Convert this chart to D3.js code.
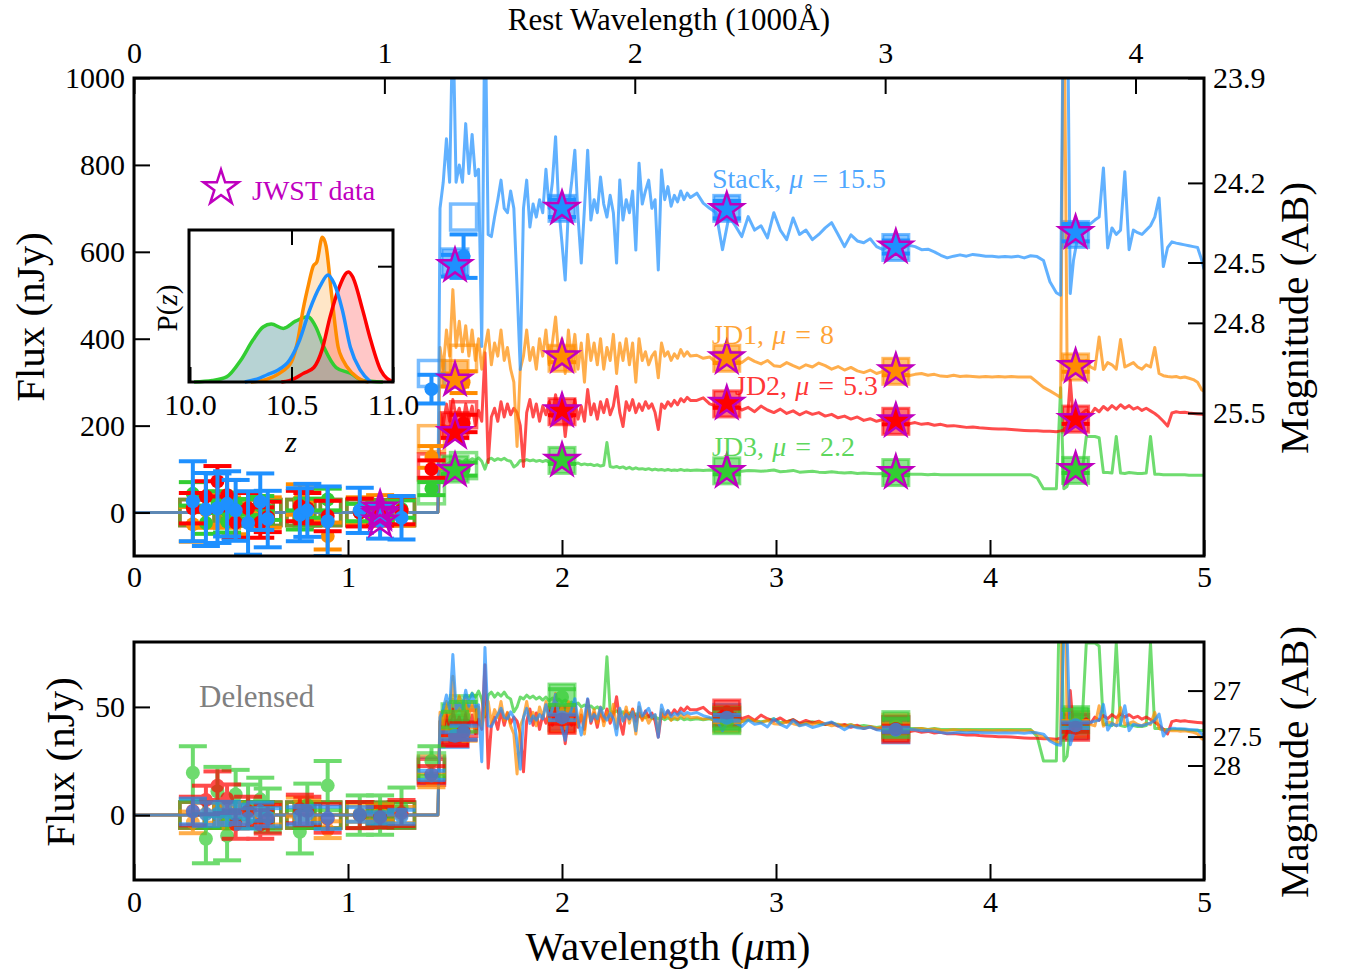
<!DOCTYPE html>
<html><head><meta charset="utf-8">
<script src="https://cdn.jsdelivr.net/npm/d3@7"></script>
<style>body{margin:0;background:#fff;} svg{display:block;}</style>
</head><body>
<svg id="chart" width="1346" height="978"></svg>
<script>
// ---------------- DATA ----------------
const redshift = 10.7;
const objectNames = ["Stack", "JD1", "JD2", "JD3"];
const magnifications = [15.5, 8, 5.3, 2.2];
const muLabels = ["15.5", "8", "5.3", "2.2"];

const xTicks = [0, 1, 2, 3, 4, 5];
const restTicks = [0, 1, 2, 3, 4];
const fluxTicksTop = [0, 200, 400, 600, 800, 1000];
const fluxTicksBottom = [0, 50];
const magTicksTop = [23.9, 24.2, 24.5, 24.8, 25.5];
const magTicksBottom = [27, 27.5, 28];
const insetTicks = [10.0, 10.5, 11.0];

// observed wavelength grid of the best-fit spectra (micron)
const spectrumWave = [0.0, 1.42,
1.430,1.445,1.460,1.475,1.490,1.505,1.520,1.535,1.550,1.565,
1.580,1.595,1.610,1.625,1.640,1.655,1.670,1.685,1.700,1.715,
1.730,1.745,1.760,1.775,1.790,1.805,1.820,1.835,1.850,1.865,
1.880,1.895,1.910,1.925,1.940,1.955,1.970,1.985,2.000,2.015,
2.030,2.045,2.060,2.075,2.090,2.105,2.120,2.135,2.150,2.165,
2.180,2.195,2.210,2.225,2.240,2.255,2.270,2.285,2.300,2.315,
2.330,2.345,2.360,2.375,2.390,2.405,2.420,2.435,2.450,2.465,
2.480,2.495,2.510,2.525,2.540,2.555,2.570,2.585,2.600,
2.63,2.66,2.69,2.72,2.75,2.78,2.81,2.84,2.87,2.90,
2.93,2.96,2.99,3.02,3.05,3.08,3.11,3.14,3.17,3.20,
3.23,3.26,3.29,3.32,3.35,3.38,3.41,3.44,3.47,3.50,
3.53,3.56,3.59,3.62,3.65,3.68,3.71,3.74,3.77,3.80,
3.83,3.86,3.89,3.92,3.95,3.98,4.01,4.04,4.07,4.10,
4.13,4.16,4.19,4.22,4.25,4.28,4.31,
4.33,4.345,4.36,4.375,4.39,
4.41,4.43,4.45,4.47,4.49,4.51,4.53,4.55,4.57,4.59,
4.61,4.63,4.65,4.67,4.69,4.71,4.73,4.75,4.77,4.79,
4.81,4.83,4.85,4.87,4.89,4.91,4.93,4.95,4.97,4.99,
5.00];

// observed (lensed) flux of the spectra, nJy
const stackSpec = [0,0,
700,760,860,760,1150,760,800,760,895,780,
870,775,790,382,1200,640,635,680,720,765,
700,690,740,700,520,329,700,765,657,710,
680,720,690,790,700,760,865,700,620,535,
700,760,834,680,574,700,834,673,720,690,
772,710,680,730,690,574,765,673,720,690,
740,604,804,710,740,765,700,720,558,788,
720,750,705,730,715,740,720,735,725,
735,712,700,690,605,681,660,635,681,650,
660,632,690,650,628,678,640,650,628,640,
655,667,640,612,639,625,621,630,612,605,
615,620,608,615,612,605,606,600,592,586,
590,593,590,594,592,590,590,588,589,588,
590,586,591,589,580,531,506,
500,1300,1300,504,580,
634,650,657,665,673,680,793,609,655,640,
650,784,605,650,644,640,650,660,680,724,
566,610,623,620,618,616,614,612,610,580,
560];

const jd1Spec = [0,0,
380,330,420,360,513,380,440,370,430,360,
420,350,400,330,380,420,340,390,360,420,
350,380,330,300,152,330,360,420,350,380,
330,400,360,420,340,390,450,360,400,320,
420,350,410,330,390,300,410,350,390,340,
400,330,380,350,410,320,390,350,400,340,
390,300,400,350,370,340,360,370,310,390,
360,370,350,365,355,375,360,370,360,
362,355,358,345,350,362,352,345,356,348,
342,350,338,336,345,338,332,340,335,344,
338,330,336,328,334,326,322,328,320,325,
322,318,322,315,318,320,316,318,314,313,
316,313,314,313,312,313,312,313,312,313,
312,312,312,300,288,280,271,
265,1300,352,345,340,
345,340,350,335,330,404,329,345,340,330,
398,335,340,345,335,330,340,335,380,320,
315,313,312,313,310,312,309,306,300,282,
279];

const jd2Spec = [0,0,
230,200,250,210,260,220,240,200,250,215,
245,200,235,210,368,115,220,240,210,255,
220,250,225,240,230,200,106,230,260,220,
250,210,245,225,255,220,271,230,250,175,
240,220,260,215,245,210,283,225,250,215,
255,230,260,225,245,290,230,198,255,235,
260,230,250,235,255,240,250,230,191,250,
240,255,245,258,248,262,255,265,258,
258,264,250,245,255,240,248,236,242,232,
245,236,230,238,228,234,225,232,226,230,
222,226,218,222,215,220,212,216,210,214,
208,206,210,204,207,203,205,201,203,199,
200,198,196,197,195,194,193,192,192,191,
190,189,188,188,187,187,186,
188,190,200,305,210,
222,228,236,225,240,232,244,236,246,238,
248,240,246,238,242,235,240,234,228,220,
210,199,229,232,230,231,229,228,227,226,
225];

const jd3Spec = [0,0,
95,105,110,115,118,112,120,115,122,118,
124,120,126,118,100,122,125,120,124,121,
125,120,118,105,110,120,118,122,119,121,
118,120,117,120,116,119,115,118,115,117,
113,115,112,114,110,112,110,111,108,110,
107,109,161,106,104,106,103,105,101,104,
100,103,100,101,99,101,98,100,98,99,
97,99,97,98,97,99,97,98,97,
98,97,98,96,97,95,96,95,97,96,
95,96,98,94,95,97,93,94,95,93,
92,94,92,91,92,90,91,90,89,90,
89,88,89,88,88,88,87,88,87,87,
87,87,87,87,87,87,87,87,87,87,
87,87,87,80,55,55,55,
287,55,60,90,92,
93,92,175,175,175,172,92,92,91,175,
91,90,92,91,90,90,91,175,88,88,
87,87,87,87,87,87,86,86,86,86,
86];

// photometry
const hstWave = [0.275, 0.336, 0.39, 0.435, 0.475, 0.533, 0.59, 0.625, 0.775, 0.81, 0.905, 1.055, 1.25, 1.39, 1.54];
const jwstWave = [1.15, 1.50, 2.00, 2.77, 3.56, 4.40];

const stackHstFlux  = [26, 7, 10, 20, 5, -24, 25, -15, -5, 5, -20, 5, -12, 284, 590];
const stackHstErr   = [92, 84, 80, 75, 70, 73, 65, 65, 61, 61, 80, 52, 50, 33, 50];
const stackHstModel = [0, 0, 0, 0, 0, 0, 0, 0, 0, 0, 0, 0, 0, 320, 680];
const stackJwstFlux  = [-20, 568, 700, 697, 611, 644];
const stackJwstErr   = [40, 25, 20, 20, 15, 20];
const stackJwstModel = [0, 577, 700, 700, 610, 640];

const jd1HstFlux  = [-27, 5, 10, 0, -15, 10, -5, 0, 30, 20, -54, 5, 0, 128, 300];
const jd1HstErr   = [40, 40, 38, 35, 35, 35, 35, 35, 35, 35, 31, 30, 30, 25, 25];
const jd1HstModel = [0, 0, 0, 0, 0, 0, 0, 0, 0, 0, 0, 0, 0, 170, 355];
const jd1JwstFlux  = [10, 305, 358, 356, 326, 336];
const jd1JwstErr   = [30, 15, 12, 12, 10, 12];
const jd1JwstModel = [0, 320, 355, 355, 325, 335];

const jd2HstFlux  = [10, 37, 72, 40, -23, 10, -23, -10, 15, 10, -8, 0, 5, 100, 205];
const jd2HstErr   = [35, 35, 35, 35, 35, 35, 35, 35, 35, 35, 35, 32, 32, 20, 20];
const jd2HstModel = [0, 0, 0, 0, 0, 0, 0, 0, 0, 0, 0, 0, 0, 105, 225];
const jd2JwstFlux  = [-5, 184, 234, 251, 211, 214];
const jd2JwstErr   = [25, 12, 10, 10, 8, 10];
const jd2JwstModel = [0, 200, 232, 250, 210, 215];

const jd3HstFlux  = [43, -24, 24, -21, 21, 9, 16, 5, -17, 10, 30, 0, 8, 55, 100];
const jd3HstErr   = [27, 25, 25, 25, 25, 22, 22, 22, 22, 22, 25, 20, 20, 15, 15];
const jd3HstModel = [0, 0, 0, 0, 0, 0, 0, 0, 0, 0, 0, 0, 0, 50, 108];
const jd3JwstFlux  = [0, 97, 120, 94, 92, 99];
const jd3JwstErr   = [20, 8, 8, 6, 6, 8];
const jd3JwstModel = [0, 100, 120, 96, 92, 97];

// photometric-redshift probability distributions (inset)
const pzStackZ = [10.27, 10.33, 10.38, 10.43, 10.49, 10.54, 10.59, 10.64, 10.68, 10.71, 10.75, 10.79, 10.84, 10.89];
const pzStackP = [0, 0.02, 0.05, 0.08, 0.15, 0.29, 0.50, 0.66, 0.74, 0.68, 0.50, 0.24, 0.08, 0];
const pzJd1Z = [10.30, 10.38, 10.44, 10.50, 10.53, 10.557, 10.585, 10.607, 10.625, 10.652, 10.67, 10.697, 10.73, 10.754, 10.80, 10.85, 10.88];
const pzJd1P = [0, 0.02, 0.06, 0.14, 0.28, 0.50, 0.68, 0.80, 0.83, 1.0, 0.94, 0.61, 0.24, 0.15, 0.06, 0.01, 0];
const pzJd2Z = [10.45, 10.49, 10.56, 10.61, 10.65, 10.69, 10.73, 10.78, 10.80, 10.85, 10.89, 10.94, 11.0];
const pzJd2P = [0, 0.01, 0.06, 0.10, 0.22, 0.45, 0.635, 0.76, 0.73, 0.50, 0.29, 0.08, 0.0];
const pzJd3Z = [10.02, 10.11, 10.18, 10.25, 10.31, 10.36, 10.40, 10.46, 10.52, 10.58, 10.62, 10.66, 10.72, 10.79, 10.85, 10.95];
const pzJd3P = [0, 0.01, 0.035, 0.15, 0.29, 0.38, 0.40, 0.37, 0.42, 0.45, 0.38, 0.24, 0.10, 0.06, 0.01, 0];

// ---------------- STYLE ----------------
const FONT = "'Liberation Serif', 'DejaVu Serif', serif";
const colors = ["#1E90FF", "#FF8C00", "#FF0000", "#32CD32"];
const pzFill = [null, "#FF8C00", "#FF0000", "#5F9EA0"];
const pzFillOpacity = [0, 0.22, 0.22, 0.45];
const starEdge = "#BF00BF";

const objects = objectNames.map((n, i) => ({
  name: n, mu: magnifications[i], muLabel: muLabels[i], color: colors[i],
  spec: [stackSpec, jd1Spec, jd2Spec, jd3Spec][i],
  hstFlux: [stackHstFlux, jd1HstFlux, jd2HstFlux, jd3HstFlux][i],
  hstErr: [stackHstErr, jd1HstErr, jd2HstErr, jd3HstErr][i],
  hstModel: [stackHstModel, jd1HstModel, jd2HstModel, jd3HstModel][i],
  jwstFlux: [stackJwstFlux, jd1JwstFlux, jd2JwstFlux, jd3JwstFlux][i],
  jwstErr: [stackJwstErr, jd1JwstErr, jd2JwstErr, jd3JwstErr][i],
  jwstModel: [stackJwstModel, jd1JwstModel, jd2JwstModel, jd3JwstModel][i],
  pzZ: [pzStackZ, pzJd1Z, pzJd2Z, pzJd3Z][i],
  pzP: [pzStackP, pzJd1P, pzJd2P, pzJd3P][i],
  pzFill: pzFill[i], pzFillOpacity: pzFillOpacity[i]
}));

const svg = d3.select("#chart");
const L = 134, R = 1204;
const x = d3.scaleLinear().domain([0, 5]).range([L, R]);
const yTop = d3.scaleLinear().domain([-100, 1000]).range([556, 78]);
const yBot = d3.scaleLinear().domain([-30, 80]).range([880, 642]);
const xRest = d3.scaleLinear().domain([0, 50 / (1 + redshift)]).range([L, R]);
const magToFlux = m => Math.pow(10, (31.4 - m) / 2.5);

const defs = svg.append("defs");
defs.append("clipPath").attr("id", "clipTop").append("rect")
  .attr("x", L).attr("y", 78).attr("width", R - L).attr("height", 478);
defs.append("clipPath").attr("id", "clipBot").append("rect")
  .attr("x", L).attr("y", 642).attr("width", R - L).attr("height", 238);

function drawPanel(y, clipId, delensed) {
  const g = svg.append("g").attr("clip-path", `url(#${clipId})`);
  const sq = 26;
  const mOp = delensed ? 0.7 : 1;
  // model photometry squares
  objects.forEach(o => {
    const d = delensed ? o.mu : 1;
    hstWave.forEach((w, i) => {
      g.append("rect").attr("x", x(w) - sq / 2).attr("y", y(o.hstModel[i] / d) - sq / 2)
        .attr("width", sq).attr("height", sq)
        .attr("fill", "none").attr("stroke", o.color).attr("stroke-width", 3.5)
        .attr("stroke-opacity", 0.6);
    });
    jwstWave.forEach((w, i) => {
      g.append("rect").attr("x", x(w) - sq / 2).attr("y", y(o.jwstModel[i] / d) - sq / 2)
        .attr("width", sq).attr("height", sq)
        .attr("fill", o.color).attr("fill-opacity", 0.55)
        .attr("stroke", o.color).attr("stroke-width", 3).attr("stroke-opacity", 0.6);
    });
  });
  // spectra
  const line = d3.line().x(d => x(d[0])).y(d => y(d[1]));
  [3, 2, 1, 0].forEach(k => {
    const o = objects[k];
    const d = delensed ? o.mu : 1;
    const pts = spectrumWave.map((w, i) => [w, o.spec[i] / d]);
    g.append("path").datum(pts).attr("d", line)
      .attr("fill", "none").attr("stroke", o.color).attr("stroke-width", 3)
      .attr("stroke-opacity", 0.7).attr("stroke-linejoin", "round");
  });
  // data points with error bars
  [1, 3, 2, 0].forEach(k => {
    const o = objects[k];
    const d = delensed ? o.mu : 1;
    const pts = hstWave.map((w, i) => [w, o.hstFlux[i] / d, o.hstErr[i] / d])
      .concat(jwstWave.map((w, i) => [w, o.jwstFlux[i] / d, o.jwstErr[i] / d]));
    const eg = g.append("g").attr("opacity", mOp);
    pts.forEach(p => {
      const cx = x(p[0]), y1 = y(p[1] - p[2]), y2 = y(p[1] + p[2]);
      eg.append("line").attr("x1", cx).attr("x2", cx).attr("y1", y1).attr("y2", y2)
        .attr("stroke", o.color).attr("stroke-width", 4);
      [y1, y2].forEach(yy => eg.append("line").attr("x1", cx - 14).attr("x2", cx + 14)
        .attr("y1", yy).attr("y2", yy).attr("stroke", o.color).attr("stroke-width", 4));
      eg.append("circle").attr("cx", cx).attr("cy", y(p[1])).attr("r", 7).attr("fill", o.color);
    });
  });
  // JWST stars (top panel only)
  if (!delensed) {
    const star = d3.symbol().type(d3.symbolStar).size(340);
    objects.forEach(o => {
      jwstWave.forEach((w, i) => {
        g.append("path").attr("d", star)
          .attr("transform", `translate(${x(w)},${y(o.jwstFlux[i])})`)
          .attr("fill", i === 0 ? "none" : o.color)
          .attr("stroke", starEdge).attr("stroke-width", 2.5);
      });
    });
  }
}

drawPanel(yTop, "clipTop", false);
drawPanel(yBot, "clipBot", true);

// ---------------- AXES ----------------
function styleAxis(sel, showText = true, size = 30) {
  sel.select(".domain").remove();
  sel.selectAll(".tick line").attr("stroke", "#000").attr("stroke-width", 2);
  sel.selectAll(".tick text").attr("font-size", size).attr("font-family", FONT).attr("fill", "#000");
  if (!showText) sel.selectAll(".tick text").remove();
}
const fmtInt = d3.format("d");

// top panel
svg.append("g").attr("transform", "translate(0,556)")
  .call(d3.axisBottom(x).tickValues(xTicks).tickFormat(fmtInt).tickSizeInner(-16).tickSizeOuter(0).tickPadding(10))
  .call(styleAxis);
svg.append("g").attr("transform", `translate(${L},0)`)
  .call(d3.axisLeft(yTop).tickValues(fluxTicksTop).tickFormat(fmtInt).tickSizeInner(-16).tickSizeOuter(0).tickPadding(9))
  .call(styleAxis);
svg.append("g").attr("transform", "translate(0,78)")
  .call(d3.axisTop(xRest).tickValues(restTicks).tickFormat(fmtInt).tickSizeInner(-16).tickSizeOuter(0).tickPadding(15))
  .call(styleAxis);
svg.append("g").attr("transform", `translate(${R},0)`)
  .call(d3.axisRight(yTop).tickValues(magTicksTop.map(magToFlux))
    .tickFormat((d, i) => String(magTicksTop[i])).tickSizeInner(-16).tickSizeOuter(0).tickPadding(9))
  .call(styleAxis);

// bottom panel
svg.append("g").attr("transform", "translate(0,880)")
  .call(d3.axisBottom(x).tickValues(xTicks).tickFormat(fmtInt).tickSizeInner(-16).tickSizeOuter(0).tickPadding(11))
  .call(styleAxis);
svg.append("g").attr("transform", `translate(${L},0)`)
  .call(d3.axisLeft(yBot).tickValues(fluxTicksBottom).tickFormat(fmtInt).tickSizeInner(-16).tickSizeOuter(0).tickPadding(9))
  .call(styleAxis);
svg.append("g").attr("transform", `translate(${R},0)`)
  .call(d3.axisRight(yBot).tickValues(magTicksBottom.map(magToFlux))
    .tickFormat((d, i) => String(magTicksBottom[i])).tickSizeInner(-16).tickSizeOuter(0).tickPadding(9))
  .call(s => styleAxis(s, true, 28));

// frames
svg.append("rect").attr("x", L).attr("y", 78).attr("width", R - L).attr("height", 478)
  .attr("fill", "none").attr("stroke", "#000").attr("stroke-width", 3);
svg.append("rect").attr("x", L).attr("y", 642).attr("width", R - L).attr("height", 238)
  .attr("fill", "none").attr("stroke", "#000").attr("stroke-width", 3);

// ---------------- LABELS ----------------
function addText(parts, opts) {
  const t = svg.append("text").attr("font-family", FONT).attr("font-size", opts.size)
    .attr("fill", opts.color || "#000").attr("text-anchor", opts.anchor || "start")
    .attr("transform", opts.transform).attr("fill-opacity", opts.opacity || 1)
    .style("white-space", "pre");
  parts.forEach(p => {
    const s = t.append("tspan").text(p.t);
    if (p.i) s.attr("font-style", "italic");
    if (p.dx) s.attr("dx", p.dx);
  });
  return t;
}
addText([{t: "Rest Wavelength (1000Å)"}], {size: 31, anchor: "middle", transform: "translate(669,30)"});
addText([{t: "Flux (nJy)"}], {size: 41, anchor: "middle", transform: "translate(44,317) rotate(-90)"});
addText([{t: "Magnitude (AB)"}], {size: 41, anchor: "middle", transform: "translate(1308,318) rotate(-90)"});
addText([{t: "Flux (nJy)"}], {size: 41, anchor: "middle", transform: "translate(74,762) rotate(-90)"});
addText([{t: "Magnitude (AB)"}], {size: 41, anchor: "middle", transform: "translate(1308,762) rotate(-90)"});
addText([{t: "Wavelength ("}, {t: "μ", i: true}, {t: "m)"}], {size: 41, anchor: "middle", transform: "translate(668,960)"});
addText([{t: "Delensed"}], {size: 31, color: "#808080", transform: "translate(199,707)"});

// object labels
const labelPos = [[712, 188], [712, 344], [735, 395], [712, 456]];
objects.forEach((o, k) => {
  addText([{t: o.name + ","}, {t: "μ", i: true, dx: 8}, {t: "=", dx: 9}, {t: o.muLabel, dx: 9}],
    {size: 28, color: o.color, opacity: 0.8, transform: `translate(${labelPos[k][0]},${labelPos[k][1]})`});
});

// legend
svg.append("path").attr("d", d3.symbol().type(d3.symbolStar).size(380))
  .attr("transform", "translate(221,188)").attr("fill", "none")
  .attr("stroke", starEdge).attr("stroke-width", 2.5);
addText([{t: "JWST data"}], {size: 28, color: starEdge, transform: "translate(252,200)"});

// ---------------- INSET ----------------
const ix = d3.scaleLinear().domain([10, 11]).range([190, 393]);
const iy = d3.scaleLinear().domain([0, 1.05]).range([382, 230]);
svg.append("rect").attr("x", 189).attr("y", 230).attr("width", 204).attr("height", 152).attr("fill", "#fff");
const ig = svg.append("g");
const area = d3.area().x(d => ix(d[0])).y0(iy(0)).y1(d => iy(d[1])).curve(d3.curveMonotoneX);
const iline = d3.line().x(d => ix(d[0])).y(d => iy(d[1])).curve(d3.curveMonotoneX);
[1, 2, 3].forEach(k => {
  const o = objects[k];
  const pts = o.pzZ.map((z, i) => [z, o.pzP[i]]);
  ig.append("path").datum(pts).attr("d", area).attr("fill", o.pzFill).attr("fill-opacity", o.pzFillOpacity);
});
[3, 1, 2, 0].forEach(k => {
  const o = objects[k];
  const pts = o.pzZ.map((z, i) => [z, o.pzP[i]]);
  ig.append("path").datum(pts).attr("d", iline).attr("fill", "none")
    .attr("stroke", o.color).attr("stroke-width", 3.5).attr("stroke-linejoin", "round");
});
svg.append("g").attr("transform", "translate(0,382)")
  .call(d3.axisBottom(ix).tickValues(insetTicks).tickFormat(d3.format(".1f")).tickSizeInner(-15).tickSizeOuter(0).tickPadding(12))
  .call(styleAxis);
svg.append("g").attr("transform", "translate(0,230)")
  .call(d3.axisTop(ix).tickValues([10.5]).tickSizeInner(-15).tickSizeOuter(0))
  .call(s => styleAxis(s, false));
svg.append("g").attr("transform", "translate(393,0)")
  .call(d3.axisRight(iy).tickValues([0.8]).tickSizeInner(-15).tickSizeOuter(0))
  .call(s => styleAxis(s, false));
svg.append("rect").attr("x", 189).attr("y", 230).attr("width", 204).attr("height", 152)
  .attr("fill", "none").attr("stroke", "#000").attr("stroke-width", 3);
addText([{t: "z", i: true}], {size: 30, anchor: "middle", transform: "translate(291,452)"});
addText([{t: "P("}, {t: "z", i: true}, {t: ")"}], {size: 29, anchor: "middle", transform: "translate(177,308) rotate(-90)"});
</script>
</body></html>
